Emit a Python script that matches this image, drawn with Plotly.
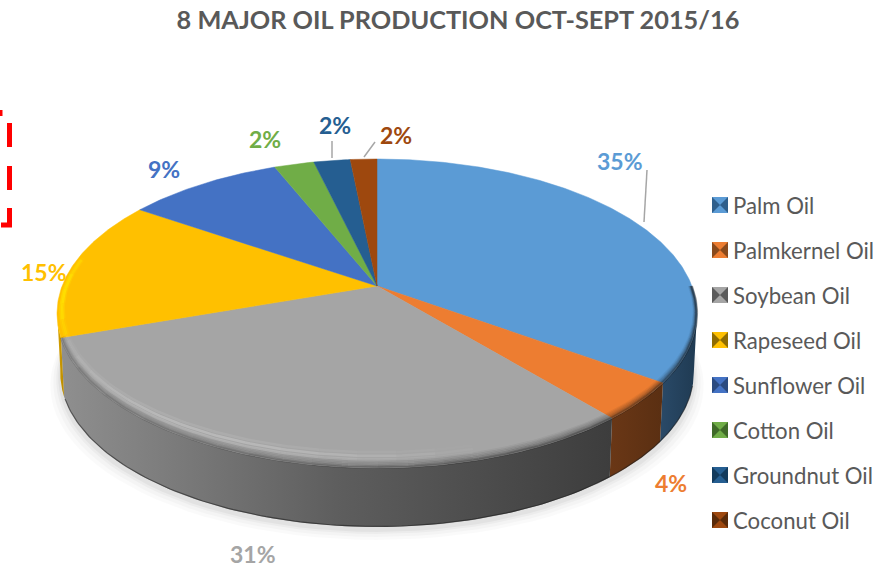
import numpy as np
import plotly.graph_objects as go

categories = ["Palm Oil", "Palmkernel Oil", "Soybean Oil", "Rapeseed Oil",
              "Sunflower Oil", "Cotton Oil", "Groundnut Oil", "Coconut Oil"]
values = [35.0, 4.0, 31.0, 14.8, 9.4, 2.4, 2.2, 1.6]
pct_labels = ["35%", "4%", "31%", "15%", "9%", "2%", "2%", "2%"]

colors = ["#5b9bd5", "#ed7d31", "#a5a5a5", "#ffc000", "#4472c4", "#70ad47", "#255e91", "#9e480e"]
swatch_darks = ["#2f5f8c", "#8a4a1c", "#5a5a5a", "#8f6c00", "#2a4a80", "#3f6a28", "#123a5c", "#5a2a08"]
wall_scales = {
    0: [[0, "#2a4a68"], [1, "#1f3a52"]],
    1: [[0, "#6a3716"], [1, "#5a2f12"]],
    2: [[0, "#8f8f8f"], [0.5, "#5e5e5e"], [1, "#3d3d3d"]],
    3: [[0, "#d9a300"], [1, "#b88a00"]],
}
# per-slice bevel highlight: rgb colour, peak alpha and angular range of the glow
glow = {2: ("255,255,255", 0.22, 165, 255), 3: ("255,222,0", 0.95, 250, 282)}

# projection of the pie disc (pixel space)
CX, CY, A, B, K = 377.0, 286.0, 314.9, 149.6, 0.178
DEPTH, BOTTOM_SCALE = 59.0, 0.99
WALL_FROM, WALL_TO = 100.25, 261.0
BEVEL_X, BEVEL_Y = 0.022, 0.085


def project(theta_deg, ru=1.0, rv=1.0):
    t = np.radians(theta_deg)
    u, v = ru * np.sin(t), -rv * np.cos(t)
    d = 1 - K * v
    return CX + A * u / d, CY + B * v / d


def project_bottom(theta_deg):
    x, y = project(theta_deg)
    return CX + (x - CX) * BOTTOM_SCALE, y + DEPTH


def dark_factor(i, th):
    if i == 3:
        return 0.0
    if i == 2:
        return float(np.clip(1 - (th - 150) / 100 * 0.7, 0.3, 1))
    return 1.0


share = np.array(values) / sum(values) * 360
ends = np.cumsum(share)
starts = ends - share

fig = go.Figure()
off = dict(showlegend=False, hoverinfo="skip")

# soft ground shadow
ring = np.arange(0, 361, 3.0)
for grow, alpha in [(10, 0.02), (7, 0.025), (4, 0.03), (2, 0.04)]:
    x, y = project_bottom(ring)
    fig.add_trace(go.Scatter(
        x=CX + (x - CX) * (1 + grow / 320), y=y + grow + 3, mode="lines", fill="toself",
        line=dict(width=0), fillcolor=f"rgba(0,0,0,{alpha})", **off))

# side walls
for i, (s, e) in enumerate(zip(starts, ends)):
    a, b = max(s, WALL_FROM), min(e, WALL_TO)
    if a >= b:
        continue
    th = np.linspace(a, b, 90)
    tx, ty = project(th)
    bx, by = project_bottom(th[::-1])
    fig.add_trace(go.Scatter(
        x=np.r_[tx, bx], y=np.r_[ty, by], mode="lines", fill="toself",
        line=dict(width=0), fillgradient=dict(type="horizontal", colorscale=wall_scales[i]), **off))

# dark lower edge of the wall
th = np.linspace(WALL_FROM + 5, 250, 160)
bx, by = project_bottom(th)
fig.add_trace(go.Scatter(x=bx, y=by - 0.5, mode="lines",
                         line=dict(color="rgba(30,30,30,0.55)", width=1.2), **off))

# top slices
for i, (s, e) in enumerate(zip(starts, ends)):
    th = np.linspace(s, e, max(int(e - s) * 2, 6))
    x, y = project(th)
    fig.add_trace(go.Scatter(
        x=np.r_[CX, x, CX], y=np.r_[CY, y, CY], mode="lines", fill="toself",
        line=dict(width=0.5, color=colors[i]), fillcolor=colors[i], **off))

# bevel on the front rim: dark fade towards the wall, plus a soft glow
for i, (s, e) in enumerate(zip(starts, ends)):
    a, b = max(s, 90), min(e, 270)
    if a >= b or i == 3:
        continue
    edges = np.arange(a, b + 10, 10.0)
    edges[-1] = b
    for c0, c1 in zip(edges[:-1], edges[1:]):
        if c1 <= c0:
            continue
        th = np.linspace(c0, c1, 12)
        f = dark_factor(i, (c0 + c1) / 2)
        for t, alpha in [(0.40, 0.05), (0.32, 0.08), (0.24, 0.12), (0.16, 0.18), (0.08, 0.25), (0.02, 0.35)]:
            x, y = project(th, 1 - BEVEL_X * t, 1 - BEVEL_Y * t)
            fig.add_trace(go.Scatter(x=x, y=y, mode="lines",
                                     line=dict(color=f"rgba(20,20,20,{alpha * f:.3f})", width=2.5), **off))

for i, (rgb, peak, g0, g1) in glow.items():
    a2, b2 = max(starts[i], g0), min(ends[i], g1)
    edges = np.arange(a2, b2 + 6, 6.0)
    edges[-1] = b2
    for c0, c1 in zip(edges[:-1], edges[1:]):
        if c1 <= c0:
            continue
        env = np.sin(np.pi * ((c0 + c1) / 2 - g0) / (g1 - g0)) ** 0.8
        th = np.linspace(c0, c1, 8)
        for t, w, m in [(0.85, 2.5, 0.4), (0.65, 2.5, 1.0), (0.45, 2.5, 0.7)]:
            x, y = project(th, 1 - BEVEL_X * t, 1 - BEVEL_Y * t)
            fig.add_trace(go.Scatter(x=x, y=y, mode="lines",
                                     line=dict(color=f"rgba({rgb},{peak * env * m:.3f})", width=w), **off))

# legend drawn beside the pie: swatch + real text
legend_x = 720
legend_text_x = 733
legend_ys = [205, 250, 295, 340, 385, 430, 475, 520]
for name, c, dk, ly in zip(categories, colors, swatch_darks, legend_ys):
    fig.add_trace(go.Scatter(
        x=[legend_x], y=[ly], mode="markers", name=name,
        marker=dict(symbol="square", size=16, color=c), **off))
    fig.add_trace(go.Scatter(
        x=[legend_x], y=[ly], mode="markers", name=name,
        marker=dict(symbol="bowtie", size=16, color=dk, line=dict(width=0)), **off))

label_xy = [(620, 161), (671, 483), (253, 554), (44, 272), (164, 169), (265, 139), (335, 125), (396, 135)]
annotations = [
    dict(x=lx, y=ly, xref="x", yref="y", text=f"<b>{t}</b>", showarrow=False,
         font=dict(family="Lato", size=23, color=c), xanchor="center", yanchor="middle")
    for (lx, ly), t, c in zip(label_xy, pct_labels, colors)
]
annotations += [
    dict(x=legend_text_x, y=ly, xref="x", yref="y", text=name, showarrow=False,
         font=dict(family="Lato", size=22.2, color="#595959"), xanchor="left", yanchor="middle",
         xshift=-2)
    for name, ly in zip(categories, legend_ys)
]

grey = dict(color="#a6a6a6", width=1.5)
red = dict(color="#ff0000", width=5)
shapes = [
    dict(type="line", x0=647, y0=170, x1=644, y1=222, line=grey),
    dict(type="line", x0=332, y0=141, x1=332, y1=158, line=grey),
    dict(type="line", x0=375, y0=142, x1=364, y1=157, line=grey),
    dict(type="line", x0=9.5, y0=123, x1=9.5, y1=147, line=red),
    dict(type="line", x0=9.5, y0=166, x1=9.5, y1=190, line=red),
    dict(type="line", x0=9.5, y0=208, x1=9.5, y1=227, line=red),
    dict(type="line", x0=1, y0=225, x1=12, y1=225, line=red),
    dict(type="line", x0=0, y0=110, x1=0, y1=116, line=red),
]

fig.update_layout(
    width=885, height=568, margin=dict(l=0, r=0, t=0, b=0),
    paper_bgcolor="white", plot_bgcolor="white",
    xaxis=dict(range=[0, 885], visible=False, fixedrange=True),
    yaxis=dict(range=[568, 0], visible=False, fixedrange=True),
    title=dict(text="<b>8 MAJOR OIL PRODUCTION OCT-SEPT 2015/16</b>",
               x=458 / 885, xanchor="center", y=1 - 20 / 568, yanchor="middle",
               font=dict(family="Lato", size=25.3, color="#595959")),
    showlegend=False,
    annotations=annotations, shapes=shapes,
)

fig.write_html("out.html", config=dict(displayModeBar=False),
               post_script="document.body.style.margin='0';document.body.style.overflow='hidden';")
